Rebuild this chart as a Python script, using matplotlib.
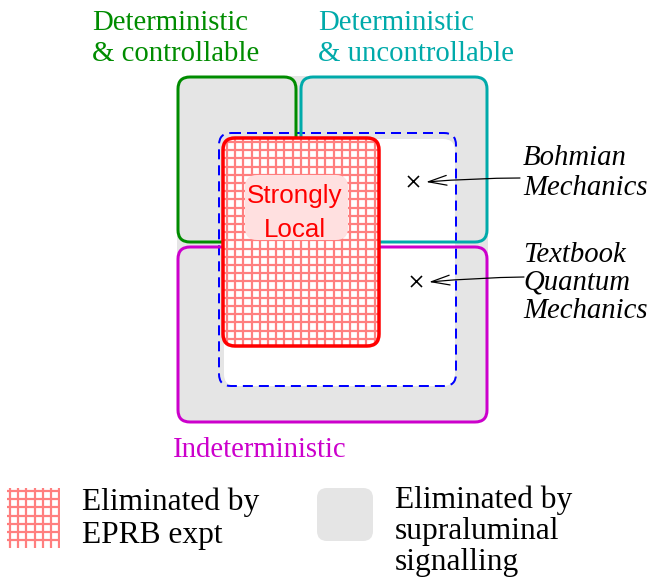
import matplotlib
matplotlib.use('Agg')
import numpy as np
import matplotlib.pyplot as plt
from matplotlib.patches import FancyBboxPatch

# ---- content ----
top_labels = ["Deterministic\n& controllable", "Deterministic\n& uncontrollable"]
bottom_label = "Indeterministic"
core_label = "Strongly\nLocal"
theory_labels = ["Bohmian\nMechanics", "Textbook\nQuantum\nMechanics"]
legend_labels = ["Eliminated by\nEPRB expt", "Eliminated by\nsupraluminal\nsignalling"]

# ---- layout (pixel coordinates) ----
DPI = 88
W, H = 650, 578
PT = 72.0 / DPI  # px -> pt

GREEN = '#008c00'
CYAN = '#00aaaa'
MAGENTA = '#cc00cc'
RED = '#ff0000'
HATCH = '#ff7f7f'
GRAY = '#e5e5e5'
PINK = '#ffe0e0'
BLUE = '#0000ff'
GRID_STEP = 8.2

fig = plt.figure(figsize=(W / DPI, H / DPI), dpi=DPI)
ax = fig.add_axes([0, 0, 1, 1])
ax.set_xlim(0, W)
ax.set_ylim(H, 0)
ax.axis('off')


def rbox(x0, y0, x1, y1, r, **kw):
    p = FancyBboxPatch((x0, y0), x1 - x0, y1 - y0,
                       boxstyle=f"round,pad=0,rounding_size={r}", **kw)
    ax.add_patch(p)
    return p


def grid_fill(x0, y0, x1, y1, r, z, off=4):
    clip = rbox(x0, y0, x1, y1, r, facecolor='white', edgecolor='none', zorder=z)
    for gx in np.arange(x0 + off, x1, GRID_STEP):
        ln, = ax.plot([gx, gx], [y0, y1], color=HATCH, lw=2.2 * PT, zorder=z,
                      solid_capstyle='butt')
        ln.set_clip_path(clip)
    for gy in np.arange(y0 + off, y1, GRID_STEP):
        ln, = ax.plot([x0, x1], [gy, gy], color=HATCH, lw=2.2 * PT, zorder=z,
                      solid_capstyle='butt')
        ln.set_clip_path(clip)


def lines(label, x, y0, ls, **kw):
    for i, line in enumerate(label.split('\n')):
        ax.text(x, y0 + i * ls, line, va='baseline', **kw)


serif = dict(family='Liberation Serif', fontsize=28.8 * PT)
serif_leg = dict(family='Liberation Serif', fontsize=31.5 * PT)

# gray background (supraluminal signalling eliminated)
rbox(177, 76, 488, 423, 12, facecolor=GRAY, edgecolor='none', zorder=1)
# white allowed region
rbox(224, 139, 455, 386, 12, facecolor='white', edgecolor='none', zorder=2)
# blue dashed region
rbox(219, 133, 456, 386, 12, facecolor='none', edgecolor=BLUE, lw=2 * PT,
     linestyle=(0, (5, 3)), zorder=3)
# category boxes
rbox(178, 77, 296, 242, 12, facecolor='none', edgecolor=GREEN, lw=3 * PT, zorder=4)
rbox(301, 77, 487, 242, 12, facecolor='none', edgecolor=CYAN, lw=3 * PT, zorder=4)
rbox(178, 247, 487, 422, 12, facecolor='none', edgecolor=MAGENTA, lw=3 * PT, zorder=4)
# strongly local (hatched)
grid_fill(223, 138, 379, 346, 12, 5)
rbox(223, 138, 379, 346, 12, facecolor='none', edgecolor=RED, lw=3.5 * PT, zorder=6)
rbox(245, 175, 348, 240, 12, facecolor=PINK, edgecolor='none', zorder=7)
lines(core_label, 295, 203, 34, ha='center', color=RED,
      family='Liberation Sans', fontsize=26 * PT, zorder=8)

# labels
lines(top_labels[0], 92, 30, 31, color=GREEN, **serif)
lines(top_labels[1], 318, 30, 31, color=CYAN, **serif)
lines(bottom_label, 173, 457, 31, color=MAGENTA, **serif)

# theories
ax.plot([413, 416], [181, 281], 'x', color='black', ms=11 * PT, mew=1.6 * PT, zorder=9)
lines(theory_labels[0], 523, 165, 30, style='italic', color='black', **serif)
lines(theory_labels[1], 523, 262, 28, style='italic', color='black', **serif)
arrow = dict(arrowstyle='->,head_length=1.5,head_width=0.4', lw=1.0, color='black',
             shrinkA=0, shrinkB=0, connectionstyle='arc3,rad=0.02')
ax.annotate('', xy=(426, 182), xytext=(520, 178), arrowprops=arrow, zorder=9)
ax.annotate('', xy=(429, 282), xytext=(524, 277), arrowprops=arrow, zorder=9)

# legend
grid_fill(7, 488, 60, 548, 0, 5, off=3)
rbox(317, 488, 373, 541, 10, facecolor=GRAY, edgecolor='none', zorder=5)
lines(legend_labels[0], 82, 510, 33, color='black', **serif_leg)
lines(legend_labels[1], 395, 508, 31, color='black', **serif_leg)

fig.savefig('out.png', dpi=DPI)
